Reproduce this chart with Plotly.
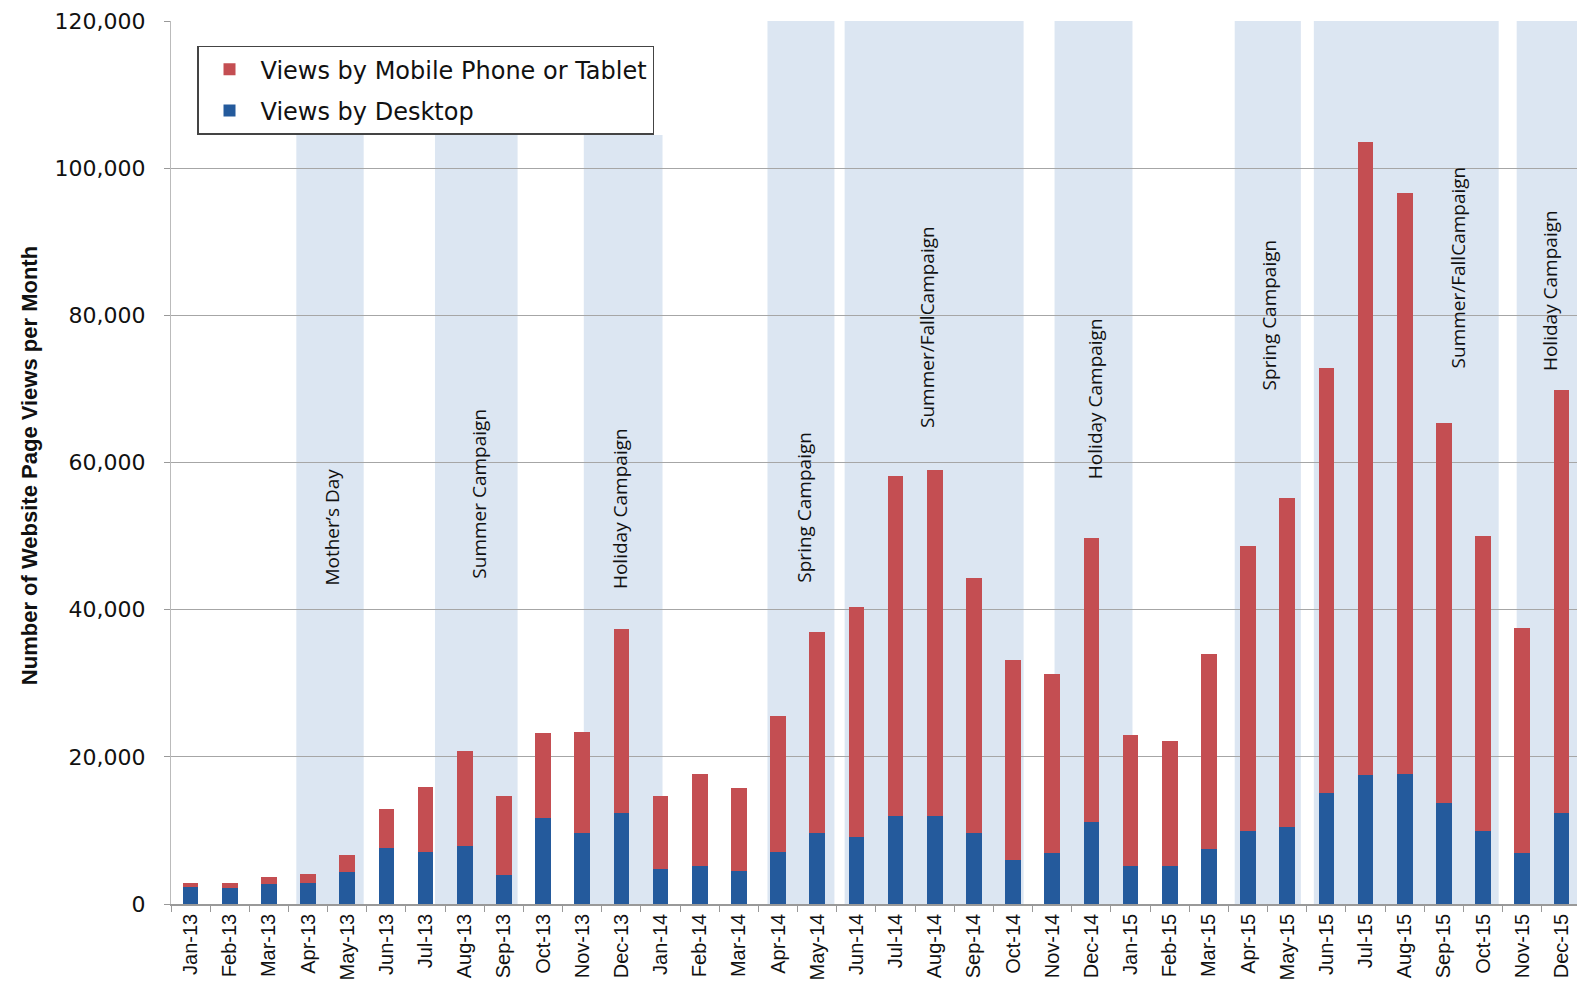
import plotly.graph_objects as go

# Monthly website page views, split by device
months = [
    "Jan-13", "Feb-13", "Mar-13", "Apr-13", "May-13", "Jun-13",
    "Jul-13", "Aug-13", "Sep-13", "Oct-13", "Nov-13", "Dec-13",
    "Jan-14", "Feb-14", "Mar-14", "Apr-14", "May-14", "Jun-14",
    "Jul-14", "Aug-14", "Sep-14", "Oct-14", "Nov-14", "Dec-14",
    "Jan-15", "Feb-15", "Mar-15", "Apr-15", "May-15", "Jun-15",
    "Jul-15", "Aug-15", "Sep-15", "Oct-15", "Nov-15", "Dec-15",
]
desktop_views = [
    2300, 2200, 2700, 2900, 4400, 7600,
    7000, 7900, 3900, 11700, 9700, 12400,
    4700, 5100, 4500, 7100, 9700, 9100,
    11900, 11900, 9700, 6000, 6900, 11200,
    5100, 5100, 7500, 9900, 10500, 15100,
    17500, 17600, 13700, 9900, 6900, 12400,
]
mobile_views = [
    600, 700, 1000, 1200, 2200, 5300,
    8900, 12900, 10800, 11600, 13700, 25000,
    10000, 12500, 11300, 18400, 27300, 31300,
    46200, 47100, 34600, 27200, 24300, 38600,
    17800, 17000, 26500, 38800, 44700, 57700,
    86000, 79000, 51700, 40100, 30600, 57400,
]

# Campaign periods (category positions) and the height of their shading
campaign_names = [
    "Mother’s Day", "Summer Campaign", "Holiday Campaign",
    "Spring Campaign", "Summer/FallCampaign", "Holiday Campaign",
    "Spring Campaign", "Summer/FallCampaign", "Holiday Campaign",
]
campaign_start = [2.70, 6.24, 10.04, 14.73, 16.70, 22.06, 26.66, 28.68, 33.86]
campaign_end = [4.42, 8.35, 12.05, 16.44, 21.27, 24.05, 28.35, 33.40, 35.80]
campaign_top = [104500, 104500, 104500, 120000, 120000, 120000, 120000, 120000, 120000]

# Where each campaign label sits (category position, views)
label_x = [3.62, 7.37, 10.97, 15.67, 18.80, 23.11, 27.53, 32.36, 34.73]
label_y = [51200, 55800, 53700, 53900, 78400, 68700, 80100, 86500, 83400]

BLUE = "#245A9C"
RED = "#C44E52"
BAND = "#DCE6F2"
AXIS_FONT = "Liberation Sans, Arial, sans-serif"

fig = go.Figure()
fig.add_trace(go.Bar(
    x=months, y=desktop_views, name="Views by Desktop",
    marker=dict(color=BLUE, line=dict(width=0)),
    legendgroup="desktop", legendrank=2,
))
fig.add_trace(go.Bar(
    x=months, y=mobile_views, name="Views by Mobile Phone or Tablet",
    marker=dict(color=RED, line=dict(width=0)),
    legendgroup="mobile", legendrank=1,
))

shapes = []
for s, e, top in zip(campaign_start, campaign_end, campaign_top):
    shapes.append(dict(
        type="rect", xref="x", yref="y", x0=s, x1=e, y0=0, y1=top,
        fillcolor=BAND, line=dict(width=0), layer="below",
    ))

annotations = []
for name, lx, ly in zip(campaign_names, label_x, label_y):
    annotations.append(dict(
        x=lx, y=ly, xref="x", yref="y", text=name, showarrow=False,
        textangle=-90, xanchor="center", yanchor="middle",
        font=dict(family="Open Sans, Noto Sans, sans-serif", size=19, color="#111111"),
    ))
annotations.append(dict(
    x=-0.101, y=0.497, xref="paper", yref="paper",
    text="<b>Number of Website Page Views per Month</b>", showarrow=False,
    textangle=-90, xanchor="center", yanchor="middle",
    font=dict(family=AXIS_FONT, size=22, color="#111111"),
))

fig.update_layout(
    width=1577, height=995,
    margin=dict(l=171, r=0, t=21, b=91),
    paper_bgcolor="white", plot_bgcolor="white",
    barmode="stack", bargap=0.6,
    shapes=shapes, annotations=annotations,
    showlegend=True,
    legend=dict(
        x=0.0185, y=0.972, xanchor="left", yanchor="top",
        traceorder="grouped", tracegroupgap=7,
        bgcolor="white", bordercolor="#444444", borderwidth=1.5,
        font=dict(family="DejaVu Sans, sans-serif", size=24, color="#111111"),
        itemwidth=52,
    ),
    xaxis=dict(
        type="category", range=[-0.5, 35.4],
        tickangle=-90, tickson="boundaries", ticks="outside", ticklen=6,
        tickcolor="#999999", showline=True, linecolor="#999999", linewidth=1.5,
        showgrid=False,
        tickfont=dict(family=AXIS_FONT, size=20, color="#111111"),
    ),
    yaxis=dict(
        range=[0, 120000], dtick=20000, tickformat=",",
        showgrid=True, gridcolor="#A6A6A6", gridwidth=1,
        ticks="outside", ticklen=6, tickcolor="#999999",
        showline=True, linecolor="#BBBBBB", linewidth=1,
        zeroline=False, ticklabelstandoff=14,
        tickfont=dict(family="DejaVu Sans, sans-serif", size=22, color="#111111"),
    ),
)

fig.write_html("out.html")
